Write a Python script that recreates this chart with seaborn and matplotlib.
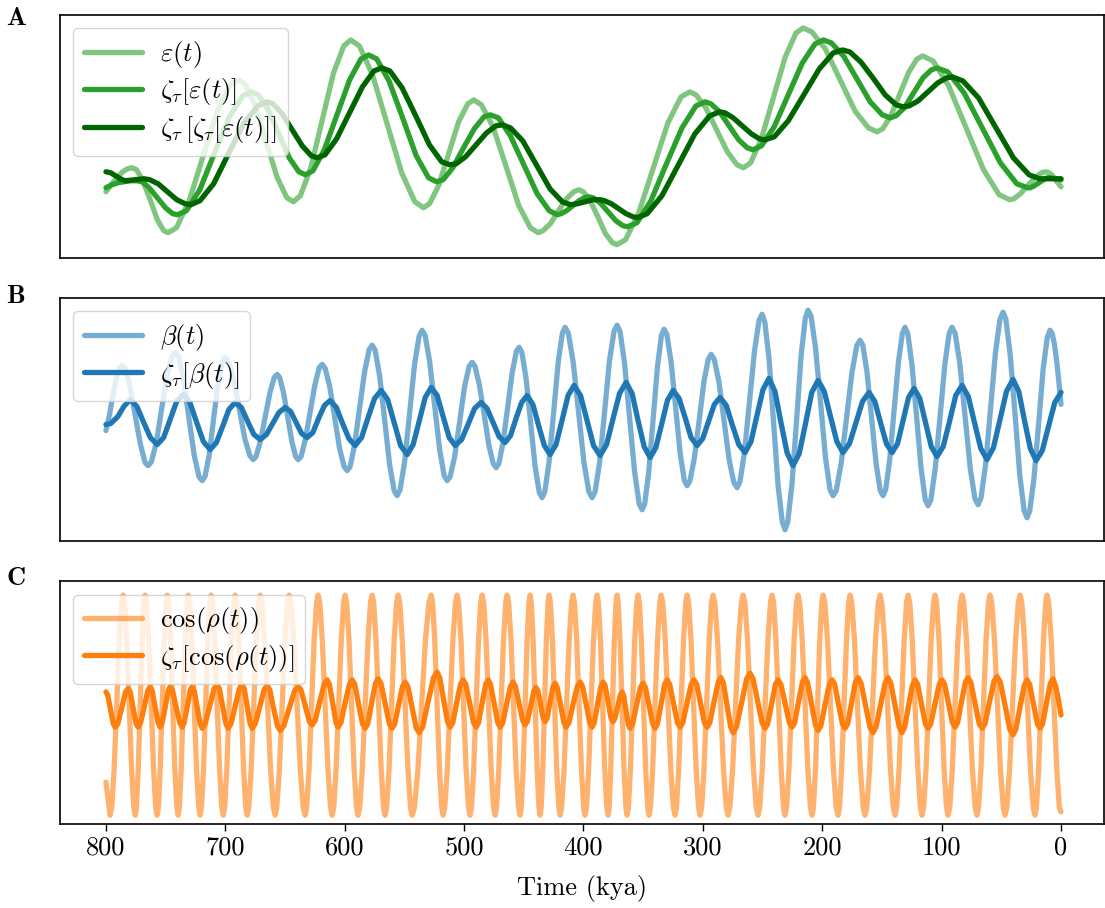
import matplotlib
matplotlib.use("Agg")
import matplotlib.pyplot as plt
import seaborn as sns

# values (arbitrary units, the chart has no y ticks)
# panel A: eccentricity and two smoothed / lagged versions of it
eps_t = [800, 795, 790, 786, 782, 778,
         774.4, 769, 763, 757, 751.6, 748,
         740.9, 730.3, 718.5, 706.7, 696.1, 689,
         683.5, 675.2, 666, 656.8, 648.5, 643,
         637.2, 628.6, 619, 609.4, 600.8, 595,
         587.7, 576.7, 564.5, 552.3, 541.3, 534,
         529, 521.4, 513, 504.6, 497, 492,
         485.5, 475.8, 465, 454.2, 444.5, 438,
         433.9, 427.8, 421, 414.2, 408.1, 404,
         400.2, 394.4, 388, 381.6, 375.8, 372,
         364.7, 353.7, 341.5, 329.3, 318.3, 311,
         305.6, 297.5, 288.5, 279.5, 271.4, 266,
         260, 251, 241, 231, 222, 216,
         208.6, 197.4, 185, 172.6, 161.4, 154,
         149.4, 142.6, 135, 127.4, 120.6, 116,
         107.2, 94.1, 79.5, 64.9, 51.8, 43,
         39.4, 34, 28, 22, 16.6, 13,
         10, 7, 4, 0]
eps_v = [0.66, 0.74, 0.81, 0.86, 0.89, 0.90,
         0.88, 0.77, 0.58, 0.38, 0.27, 0.25,
         0.30, 0.57, 1.02, 1.47, 1.73, 1.78,
         1.74, 1.53, 1.17, 0.81, 0.60, 0.56,
         0.62, 0.89, 1.37, 1.85, 2.12, 2.18,
         2.12, 1.83, 1.34, 0.85, 0.56, 0.50,
         0.54, 0.72, 1.04, 1.36, 1.54, 1.58,
         1.53, 1.31, 0.92, 0.52, 0.30, 0.25,
         0.27, 0.34, 0.47, 0.59, 0.66, 0.68,
         0.66, 0.57, 0.41, 0.24, 0.15, 0.13,
         0.18, 0.45, 0.90, 1.35, 1.61, 1.66,
         1.63, 1.50, 1.28, 1.06, 0.93, 0.90,
         0.95, 1.19, 1.60, 2.01, 2.25, 2.30,
         2.26, 2.09, 1.78, 1.47, 1.30, 1.26,
         1.29, 1.42, 1.64, 1.86, 1.99, 2.02,
         1.97, 1.72, 1.30, 0.88, 0.63, 0.58,
         0.59, 0.64, 0.72, 0.80, 0.85, 0.86,
         0.85, 0.82, 0.77, 0.71]

zeps_t = [800, 795, 790, 785, 779, 774,
          769.9, 763.8, 757, 750.2, 744.1, 740,
          732.6, 721.4, 709, 696.6, 685.4, 678,
          672.6, 664.5, 655.5, 646.5, 638.4, 633,
          626.6, 617.1, 606.5, 595.9, 586.4, 580,
          573.2, 562.9, 551.5, 540.1, 529.8, 523,
          517.6, 509.5, 500.5, 491.5, 483.4, 478,
          471.3, 461.2, 450, 438.8, 428.7, 422,
          418.9, 414.2, 409, 403.8, 399.1, 396,
          392, 386.1, 379.5, 372.9, 367, 363,
          355.2, 343.5, 330.5, 317.5, 305.8, 298,
          293.2, 286, 278, 270, 262.8, 258,
          250.9, 240.3, 228.5, 216.7, 206.1, 199,
          192.3, 182.2, 171, 159.8, 149.7, 143,
          138.3, 131.3, 123.5, 115.7, 108.7, 104,
          94.9, 81.2, 66, 50.8, 37.1, 28,
          25.7, 22.3, 18.5, 14.7, 11.3, 9,
          4.5, 0]
zeps_v = [0.70, 0.73, 0.75, 0.76, 0.77, 0.77,
          0.76, 0.70, 0.60, 0.50, 0.44, 0.43,
          0.47, 0.68, 1.05, 1.41, 1.62, 1.66,
          1.63, 1.49, 1.25, 1.00, 0.86, 0.83,
          0.87, 1.08, 1.43, 1.78, 1.99, 2.03,
          1.99, 1.77, 1.40, 1.02, 0.80, 0.76,
          0.78, 0.90, 1.10, 1.29, 1.41, 1.43,
          1.40, 1.22, 0.93, 0.64, 0.47, 0.43,
          0.44, 0.47, 0.52, 0.57, 0.60, 0.61,
          0.60, 0.55, 0.46, 0.37, 0.32, 0.31,
          0.35, 0.57, 0.94, 1.30, 1.52, 1.56,
          1.54, 1.46, 1.32, 1.18, 1.10, 1.08,
          1.12, 1.31, 1.63, 1.95, 2.14, 2.18,
          2.15, 2.02, 1.79, 1.56, 1.43, 1.40,
          1.42, 1.50, 1.65, 1.80, 1.88, 1.90,
          1.86, 1.65, 1.30, 0.95, 0.74, 0.70,
          0.70, 0.72, 0.75, 0.78, 0.80, 0.80,
          0.79, 0.78]

zzeps_t = [800, 796, 792, 788, 784, 776, 768,
           763.3, 756.3, 748.5, 740.7, 733.7, 729,
           721.3, 709.8, 697, 684.2, 672.7, 665,
           660, 652.4, 644, 635.6, 628, 623,
           616.5, 606.8, 596, 585.2, 575.5, 569,
           562.2, 551.9, 540.5, 529.1, 518.8, 512,
           506.7, 498.8, 490, 481.2, 473.3, 468,
           461.2, 450.9, 439.5, 428.1, 417.8, 411,
           405, 398.5, 392, 386,
           382.3, 376.7, 370.5, 364.3, 358.7, 355,
           346.7, 334.3, 320.5, 306.7, 294.3, 286,
           281.4, 274.6, 267, 259.4, 252.6, 248,
           240.2, 228.5, 215.5, 202.5, 190.8, 183,
           176.9, 167.7, 157.5, 147.3, 138.1, 132,
           127.1, 119.7, 111.5, 103.3, 95.9, 91,
           82.2, 69.1, 54.5, 39.9, 26.8, 18,
           9, 0]
zzeps_v = [0.86, 0.85, 0.82, 0.79, 0.77, 0.78, 0.79,
           0.78, 0.74, 0.66, 0.58, 0.54, 0.53,
           0.57, 0.74, 1.05, 1.35, 1.52, 1.56,
           1.54, 1.44, 1.28, 1.12, 1.02, 1.00,
           1.03, 1.19, 1.45, 1.71, 1.87, 1.90,
           1.87, 1.70, 1.42, 1.13, 0.96, 0.93,
           0.94, 1.01, 1.13, 1.25, 1.32, 1.33,
           1.30, 1.17, 0.93, 0.69, 0.56, 0.53,
           0.54, 0.56, 0.58, 0.58,
           0.57, 0.54, 0.49, 0.44, 0.41, 0.40,
           0.44, 0.62, 0.93, 1.24, 1.42, 1.46,
           1.45, 1.40, 1.32, 1.24, 1.19, 1.18,
           1.21, 1.37, 1.63, 1.89, 2.05, 2.08,
           2.06, 1.96, 1.80, 1.63, 1.53, 1.51,
           1.52, 1.57, 1.66, 1.75, 1.80, 1.81,
           1.77, 1.60, 1.30, 1.00, 0.83, 0.79,
           0.79, 0.79]

# panel B: obliquity and its smoothed version
beta_t = [800, 797, 794, 791, 788.5, 786.4,
          783.8, 779.9, 775.5, 771.1, 767.2, 764.6,
          761.9, 757.8, 753.3, 748.8, 744.7, 742.0,
          739.3, 735.2, 730.7, 726.2, 722.1, 719.4,
          717.1, 713.6, 709.8, 706.0, 702.5, 700.2,
          697.4, 693.1, 688.4, 683.7, 679.5, 676.7,
          674.3, 670.7, 666.6, 662.6, 659.0, 656.6,
          654.5, 651.3, 647.8, 644.3, 641.1, 639.0,
          636.6, 633.0, 628.9, 624.9, 621.3, 618.9,
          616.4, 612.6, 608.4, 604.3, 600.5, 598.0,
          595.5, 591.7, 587.5, 583.3, 579.5, 577.0,
          574.5, 570.7, 566.5, 562.4, 558.6, 556.1,
          553.6, 549.8, 545.6, 541.5, 537.7, 535.2,
          532.7, 528.9, 524.7, 520.5, 516.7, 514.2,
          511.7, 507.9, 503.7, 499.6, 495.8, 493.3,
          490.9, 487.3, 483.2, 479.2, 475.6, 473.2,
          470.9, 467.4, 463.5, 459.7, 456.2, 453.9,
          451.6, 448.1, 444.3, 440.5, 437.0, 434.7,
          432.4, 428.9, 425.0, 421.2, 417.7, 415.4,
          412.7, 408.6, 404.1, 399.6, 395.5, 392.8,
          390.3, 386.5, 382.3, 378.2, 374.4, 371.9,
          369.4, 365.6, 361.4, 357.2, 353.4, 350.9,
          348.7, 345.4, 341.7, 338.0, 334.7, 332.5,
          330.2, 326.7, 322.8, 319.0, 315.5, 313.2,
          310.8, 307.2, 303.1, 299.1, 295.5, 293.1,
          290.5, 286.6, 282.2, 277.9, 274.0, 271.4,
          268.9, 265.1, 260.9, 256.7, 252.9, 250.4,
          248.1, 244.6, 240.8, 237.0, 233.5, 231.2,
          228.9, 225.4, 221.5, 217.7, 214.2, 211.9,
          209.4, 205.6, 201.4, 197.3, 193.5, 191.0,
          188.3, 184.2, 179.6, 175.1, 171.0, 168.3,
          166.0, 162.5, 158.7, 154.9, 151.4, 149.1,
          146.9, 143.6, 139.9, 136.2, 132.9, 130.7,
          128.4, 124.9, 121.0, 117.2, 113.7, 111.4,
          109.0, 105.4, 101.3, 97.3, 93.7, 91.3,
          88.7, 84.8, 80.4, 76.0, 72.1, 69.5,
          67.0, 63.2, 59.0, 54.9, 51.1, 48.6,
          46.2, 42.6, 38.5, 34.5, 30.9, 28.5,
          26.2, 22.7, 18.8, 15.0, 11.5, 9.2,
          7.5, 5.5, 3.5, 1.7, 0]
beta_v = [-0.11, 0.05, 0.26, 0.43, 0.52, 0.54,
          0.51, 0.33, 0.04, -0.25, -0.43, -0.46,
          -0.42, -0.23, 0.11, 0.44, 0.63, 0.67,
          0.63, 0.41, 0.03, -0.35, -0.57, -0.61,
          -0.57, -0.36, 0.01, 0.37, 0.58, 0.62,
          0.58, 0.41, 0.11, -0.19, -0.36, -0.40,
          -0.37, -0.22, 0.03, 0.27, 0.42, 0.45,
          0.42, 0.27, 0.03, -0.22, -0.37, -0.40,
          -0.37, -0.20, 0.08, 0.35, 0.52, 0.55,
          0.51, 0.33, 0.02, -0.29, -0.47, -0.51,
          -0.47, -0.25, 0.12, 0.48, 0.70, 0.74,
          0.69, 0.43, -0.01, -0.45, -0.71, -0.76,
          -0.70, -0.42, 0.07, 0.55, 0.83, 0.89,
          0.84, 0.58, 0.14, -0.30, -0.56, -0.61,
          -0.57, -0.37, -0.02, 0.33, 0.53, 0.57,
          0.53, 0.35, 0.05, -0.26, -0.44, -0.48,
          -0.44, -0.23, 0.12, 0.47, 0.68, 0.72,
          0.67, 0.41, -0.03, -0.47, -0.73, -0.78,
          -0.72, -0.43, 0.07, 0.57, 0.86, 0.92,
          0.86, 0.57, 0.07, -0.43, -0.72, -0.78,
          -0.72, -0.43, 0.08, 0.59, 0.88, 0.94,
          0.88, 0.56, 0.02, -0.52, -0.84, -0.90,
          -0.84, -0.53, 0.00, 0.53, 0.84, 0.90,
          0.85, 0.58, 0.12, -0.34, -0.61, -0.66,
          -0.61, -0.39, -0.01, 0.38, 0.60, 0.65,
          0.60, 0.38, -0.02, -0.41, -0.63, -0.68,
          -0.62, -0.32, 0.19, 0.69, 0.99, 1.05,
          0.97, 0.61, -0.03, -0.66, -1.02, -1.10,
          -1.02, -0.65, -0.01, 0.64, 1.01, 1.09,
          1.03, 0.71, 0.17, -0.38, -0.70, -0.76,
          -0.71, -0.44, 0.02, 0.47, 0.74, 0.79,
          0.74, 0.47, 0.02, -0.44, -0.71, -0.76,
          -0.70, -0.41, 0.08, 0.57, 0.86, 0.92,
          0.86, 0.55, 0.03, -0.49, -0.80, -0.86,
          -0.80, -0.49, 0.03, 0.55, 0.86, 0.92,
          0.86, 0.56, 0.04, -0.49, -0.79, -0.85,
          -0.78, -0.45, 0.11, 0.67, 1.00, 1.07,
          1.00, 0.65, 0.05, -0.56, -0.91, -0.98,
          -0.91, -0.59, -0.05, 0.50, 0.82, 0.89,
          0.86, 0.75, 0.57, 0.36, 0.15]

zbeta_t = [800, 796, 790, 785, 779.7,
           774.1, 768.4, 762.8, 757.1, 751.7, 746.2, 740.8, 735.3,
           729.7, 724.0, 718.4, 712.7, 707.5, 702.3, 697.0, 691.8,
           686.6, 681.3, 676.1, 670.8, 665.6, 660.4, 655.1, 649.9,
           645.3, 640.7, 636.1, 631.5, 626.7, 621.9, 617.0, 612.2,
           607.0, 601.8, 596.5, 591.3, 585.9, 580.4, 575.0, 569.5,
           564.1, 558.6, 553.2, 547.7, 542.7, 537.7, 532.6, 527.6,
           522.6, 517.6, 512.5, 507.5, 502.1, 496.7, 491.2, 485.8,
           480.8, 475.8, 470.7, 465.7, 461.1, 456.5, 451.8, 447.2,
           442.4, 437.6, 432.8, 428.0, 423.0, 418.0, 412.9, 407.9,
           402.5, 397.0, 391.6, 386.1, 380.7, 375.2, 369.8, 364.3,
           359.3, 354.3, 349.2, 344.2, 339.4, 334.6, 329.7, 324.9,
           319.9, 314.9, 309.9, 304.9, 300.1, 295.3, 290.4, 285.6,
           280.4, 275.2, 269.9, 264.7, 259.7, 254.7, 249.6, 244.6,
           239.6, 234.6, 229.5, 224.5, 219.3, 214.0, 208.8, 203.5,
           198.3, 193.1, 187.8, 182.6, 177.2, 171.7, 166.3, 160.8,
           156.0, 151.2, 146.3, 141.5, 136.9, 132.3, 127.7, 123.1,
           118.3, 113.5, 108.7, 103.9, 98.7, 93.4, 88.2, 82.9,
           77.7, 72.5, 67.2, 62.0, 56.6, 51.1, 45.7, 40.2,
           35.4, 30.6, 25.7, 20.9, 15.7, 10.5, 5.2, 0]
zbeta_v = [-0.05, -0.04, 0.03, 0.13, 0.20,
           0.13, -0.03, -0.18, -0.25, -0.18, 0.00, 0.18, 0.25,
           0.17, -0.03, -0.22, -0.30, -0.23, -0.07, 0.10, 0.17,
           0.12, -0.02, -0.15, -0.20, -0.15, -0.04, 0.07, 0.12,
           0.08, -0.03, -0.14, -0.18, -0.13, 0.01, 0.14, 0.19,
           0.12, -0.04, -0.19, -0.26, -0.18, 0.02, 0.21, 0.29,
           0.20, -0.03, -0.26, -0.35, -0.25, -0.02, 0.22, 0.32,
           0.24, 0.03, -0.18, -0.26, -0.20, -0.05, 0.11, 0.17,
           0.11, -0.03, -0.17, -0.23, -0.16, 0.01, 0.17, 0.24,
           0.15, -0.06, -0.26, -0.35, -0.25, -0.01, 0.24, 0.34,
           0.24, -0.01, -0.26, -0.36, -0.25, 0.01, 0.26, 0.37,
           0.26, -0.01, -0.27, -0.38, -0.28, -0.05, 0.19, 0.29,
           0.21, 0.02, -0.18, -0.26, -0.19, -0.02, 0.15, 0.22,
           0.14, -0.06, -0.25, -0.33, -0.22, 0.04, 0.30, 0.41,
           0.28, -0.03, -0.33, -0.46, -0.34, -0.04, 0.27, 0.39,
           0.28, 0.03, -0.22, -0.33, -0.24, -0.03, 0.18, 0.27,
           0.18, -0.03, -0.24, -0.33, -0.24, -0.01, 0.22, 0.31,
           0.21, -0.03, -0.27, -0.37, -0.27, -0.02, 0.24, 0.34,
           0.23, -0.03, -0.29, -0.40, -0.28, 0.00, 0.28, 0.40,
           0.28, -0.01, -0.29, -0.41, -0.31, -0.07, 0.17, 0.27]

# panel C: cosine of the precession angle and its smoothed version
rho_t = [800, 796.5,
         795.2, 793.2, 791.0, 788.9, 786.9, 785.6, 784.4, 782.6, 780.5, 778.5, 776.7, 775.5,
         774.5, 773.0, 771.3, 769.7, 768.2, 767.2, 766.0, 764.2, 762.1, 760.1, 758.3, 757.1,
         756.1, 754.6, 752.9, 751.2, 749.7, 748.7, 747.6, 745.9, 744.1, 742.3, 740.6, 739.5,
         738.5, 737.0, 735.3, 733.6, 732.1, 731.1, 729.9, 728.1, 726.1, 724.1, 722.3, 721.1,
         720.0, 718.3, 716.5, 714.7, 713.0, 711.9, 710.7, 708.9, 706.9, 704.8, 703.0, 701.8,
         700.6, 698.8, 696.8, 694.8, 693.0, 691.8, 690.6, 688.8, 686.7, 684.7, 682.9, 681.7,
         680.4, 678.4, 676.2, 674.1, 672.1, 670.8, 669.3, 667.1, 664.6, 662.1, 659.8, 658.3,
         656.9, 654.8, 652.4, 650.1, 648.0, 646.6, 645.0, 642.6, 639.9, 637.2, 634.8, 633.2,
         631.9, 629.9, 627.8, 625.6, 623.6, 622.3, 620.9, 618.8, 616.4, 614.0, 611.9, 610.5,
         609.2, 607.3, 605.1, 602.9, 601.0, 599.7, 598.4, 596.4, 594.3, 592.1, 590.1, 588.8,
         587.4, 585.3, 582.9, 580.5, 578.4, 577.0, 575.7, 573.8, 571.6, 569.4, 567.5, 566.2,
         564.9, 562.9, 560.8, 558.6, 556.6, 555.3, 553.9, 551.8, 549.4, 547.0, 544.9, 543.5,
         541.6, 538.7, 535.6, 532.4, 529.5, 527.6, 526.4, 524.6, 522.6, 520.6, 518.8, 517.6,
         516.2, 514.1, 511.8, 509.4, 507.3, 505.9, 504.6, 502.6, 500.5, 498.3, 496.3, 495.0,
         493.8, 492.0, 490.0, 487.9, 486.1, 484.9, 483.6, 481.6, 479.5, 477.3, 475.3, 474.0,
         472.8, 471.0, 469.0, 467.0, 465.2, 464.0, 462.7, 460.7, 458.6, 456.4, 454.4, 453.1,
         452.1, 450.6, 448.9, 447.2, 445.7, 444.7, 443.7, 442.2, 440.5, 438.8, 437.3, 436.3,
         435.4, 434.1, 432.6, 431.1, 429.7, 428.8, 427.7, 426.0, 424.2, 422.4, 420.7, 419.6,
         418.3, 416.3, 414.2, 412.0, 410.0, 408.7, 407.5, 405.7, 403.7, 401.7, 399.9, 398.7,
         397.5, 395.7, 393.7, 391.6, 389.8, 388.6, 387.5, 385.8, 384.0, 382.2, 380.5, 379.4,
         378.5, 377.2, 375.7, 374.2, 372.8, 371.9, 370.9, 369.4, 367.7, 366.0, 364.5, 363.5,
         362.4, 360.7, 358.9, 357.1, 355.4, 354.3, 353.2, 351.5, 349.7, 347.9, 346.2, 345.1,
         343.9, 342.1, 340.1, 338.0, 336.2, 335.0, 333.6, 331.5, 329.2, 326.8, 324.7, 323.3,
         322.1, 320.3, 318.3, 316.2, 314.4, 313.2, 311.9, 309.9, 307.8, 305.6, 303.6, 302.3,
         301.0, 299.1, 296.9, 294.7, 292.8, 291.5, 290.0, 287.7, 285.2, 282.7, 280.4, 278.9,
         277.4, 275.1, 272.6, 270.1, 267.8, 266.3, 264.8, 262.6, 260.1, 257.6, 255.3, 253.8,
         252.4, 250.3, 247.9, 245.5, 243.4, 242.0, 240.7, 238.8, 236.6, 234.4, 232.5, 231.2,
         229.9, 227.9, 225.8, 223.6, 221.6, 220.3, 218.9, 216.8, 214.4, 212.0, 209.9, 208.5,
         207.4, 205.7, 203.9, 202.1, 200.4, 199.3, 197.8, 195.6, 193.1, 190.6, 188.3, 186.8,
         185.6, 183.8, 181.8, 179.7, 177.9, 176.7, 175.2, 173.0, 170.5, 168.0, 165.7, 164.2,
         162.7, 160.4, 157.9, 155.4, 153.1, 151.6, 150.1, 147.8, 145.3, 142.8, 140.5, 139.0,
         137.7, 135.7, 133.6, 131.4, 129.4, 128.1, 126.7, 124.6, 122.3, 119.9, 117.8, 116.4,
         115.1, 113.1, 111.0, 108.8, 106.8, 105.5, 104.2, 102.2, 100.1, 97.9, 95.9, 94.6,
         93.2, 91.1, 88.8, 86.4, 84.3, 82.9, 81.4, 79.2, 76.7, 74.2, 71.9, 70.4,
         69.1, 67.1, 65.0, 62.8, 60.8, 59.5, 58.0, 55.7, 53.2, 50.7, 48.4, 46.9,
         45.4, 43.1, 40.6, 38.1, 35.8, 34.3, 32.8, 30.6, 28.1, 25.6, 23.3, 21.8,
         20.6, 18.8, 16.8, 14.7, 12.9, 11.7, 10.3, 8.2, 5.9, 3.5, 1.4, 0]
# one line per precession cycle (trough -> peak -> trough), 37 lines
rho_v = [-0.70, -1.0,
         # cycles 1-10
         -0.93, -0.59, 0.0, 0.59, 0.93, 1.0, 0.93, 0.59, 0.0, -0.59, -0.93, -1.0,
         -0.93, -0.59, 0.0, 0.59, 0.93, 1.0, 0.93, 0.59, 0.0, -0.59, -0.93, -1.0,
         -0.93, -0.59, 0.0, 0.59, 0.93, 1.0, 0.93, 0.59, 0.0, -0.59, -0.93, -1.0,
         -0.93, -0.59, 0.0, 0.59, 0.93, 1.0, 0.93, 0.59, 0.0, -0.59, -0.93, -1.0,
         -0.93, -0.59, 0.0, 0.59, 0.93, 1.0, 0.93, 0.59, 0.0, -0.59, -0.93, -1.0,
         -0.93, -0.59, 0.0, 0.59, 0.93, 1.0, 0.93, 0.59, 0.0, -0.59, -0.93, -1.0,
         -0.93, -0.59, 0.0, 0.59, 0.93, 1.0, 0.93, 0.59, 0.0, -0.59, -0.93, -1.0,
         -0.93, -0.59, 0.0, 0.59, 0.93, 1.0, 0.93, 0.59, 0.0, -0.59, -0.93, -1.0,
         -0.93, -0.59, 0.0, 0.59, 0.93, 1.0, 0.93, 0.59, 0.0, -0.59, -0.93, -1.0,
         -0.93, -0.59, 0.0, 0.59, 0.93, 1.0, 0.93, 0.59, 0.0, -0.59, -0.93, -1.0,
         # cycles 11-20
         -0.93, -0.59, 0.0, 0.59, 0.93, 1.0, 0.93, 0.59, 0.0, -0.59, -0.93, -1.0,
         -0.93, -0.59, 0.0, 0.59, 0.93, 1.0, 0.93, 0.59, 0.0, -0.59, -0.93, -1.0,
         -0.93, -0.59, 0.0, 0.59, 0.93, 1.0, 0.93, 0.59, 0.0, -0.59, -0.93, -1.0,
         -0.93, -0.59, 0.0, 0.59, 0.93, 1.0, 0.93, 0.59, 0.0, -0.59, -0.93, -1.0,
         -0.93, -0.59, 0.0, 0.59, 0.93, 1.0, 0.93, 0.59, 0.0, -0.59, -0.93, -1.0,
         -0.93, -0.59, 0.0, 0.59, 0.93, 1.0, 0.93, 0.59, 0.0, -0.59, -0.93, -1.0,
         -0.93, -0.59, 0.0, 0.59, 0.93, 1.0, 0.93, 0.59, 0.0, -0.59, -0.93, -1.0,
         -0.93, -0.59, 0.0, 0.59, 0.93, 1.0, 0.93, 0.59, 0.0, -0.59, -0.93, -1.0,
         -0.93, -0.59, 0.0, 0.59, 0.93, 1.0, 0.93, 0.59, 0.0, -0.59, -0.93, -1.0,
         -0.93, -0.59, 0.0, 0.59, 0.93, 1.0, 0.93, 0.59, 0.0, -0.59, -0.93, -1.0,
         # cycles 21-30
         -0.93, -0.59, 0.0, 0.59, 0.93, 1.0, 0.93, 0.59, 0.0, -0.59, -0.93, -1.0,
         -0.93, -0.59, 0.0, 0.59, 0.93, 1.0, 0.93, 0.59, 0.0, -0.59, -0.93, -1.0,
         -0.93, -0.59, 0.0, 0.59, 0.93, 1.0, 0.93, 0.59, 0.0, -0.59, -0.93, -1.0,
         -0.93, -0.59, 0.0, 0.59, 0.93, 1.0, 0.93, 0.59, 0.0, -0.59, -0.93, -1.0,
         -0.93, -0.59, 0.0, 0.59, 0.93, 1.0, 0.93, 0.59, 0.0, -0.59, -0.93, -1.0,
         -0.93, -0.59, 0.0, 0.59, 0.93, 1.0, 0.93, 0.59, 0.0, -0.59, -0.93, -1.0,
         -0.93, -0.59, 0.0, 0.59, 0.93, 1.0, 0.93, 0.59, 0.0, -0.59, -0.93, -1.0,
         -0.93, -0.59, 0.0, 0.59, 0.93, 1.0, 0.93, 0.59, 0.0, -0.59, -0.93, -1.0,
         -0.93, -0.59, 0.0, 0.59, 0.93, 1.0, 0.93, 0.59, 0.0, -0.59, -0.93, -1.0,
         -0.93, -0.59, 0.0, 0.59, 0.93, 1.0, 0.93, 0.59, 0.0, -0.59, -0.93, -1.0,
         # cycles 31-37
         -0.93, -0.59, 0.0, 0.59, 0.93, 1.0, 0.93, 0.59, 0.0, -0.59, -0.93, -1.0,
         -0.93, -0.59, 0.0, 0.59, 0.93, 1.0, 0.93, 0.59, 0.0, -0.59, -0.93, -1.0,
         -0.93, -0.59, 0.0, 0.59, 0.93, 1.0, 0.93, 0.59, 0.0, -0.59, -0.93, -1.0,
         -0.93, -0.59, 0.0, 0.59, 0.93, 1.0, 0.93, 0.59, 0.0, -0.59, -0.93, -1.0,
         -0.93, -0.59, 0.0, 0.59, 0.93, 1.0, 0.93, 0.59, 0.0, -0.59, -0.93, -1.0,
         -0.93, -0.59, 0.0, 0.59, 0.93, 1.0, 0.93, 0.59, 0.0, -0.59, -0.93, -1.0,
         -0.93, -0.59, 0.0, 0.59, 0.93, 1.0, 0.93, 0.59, 0.0, -0.59, -0.93, -0.97]

zrho_t = [800, 798.5, 796.2, 793.8, 792.3,
          790.1, 786.9, 783.6, 781.4, 779.7, 777.2, 774.7, 773.0,
          771.0, 768.0, 765.0, 763.0, 761.3, 758.8, 756.3, 754.6,
          752.9, 750.4, 747.9, 746.2, 744.2, 741.2, 738.2, 736.2,
          734.5, 732.0, 729.5, 727.8, 726.1, 723.6, 721.1, 719.4,
          716.9, 713.2, 709.4, 706.9, 705.0, 702.3, 699.5, 697.6,
          695.3, 691.8, 688.2, 685.9, 684.2, 681.7, 679.2, 677.5,
          675.0, 671.3, 667.5, 665.0, 662.8, 659.6, 656.3, 654.1,
          651.1, 646.6, 642.0, 639.0, 636.7, 633.2, 629.6, 627.3,
          624.8, 621.0, 617.2, 614.7, 612.9, 610.1, 607.3, 605.5,
          603.2, 599.7, 596.1, 593.8, 591.6, 588.4, 585.1, 582.9,
          580.7, 577.5, 574.2, 572.0, 569.7, 566.2, 562.6, 560.3,
          558.1, 554.9, 551.6, 549.4, 547.1, 543.6, 540.0, 537.7,
          534.7, 530.2, 525.6, 522.6, 520.4, 517.2, 513.9, 511.7,
          509.5, 506.3, 503.0, 500.8, 498.6, 495.4, 492.1, 489.9,
          487.9, 484.9, 481.9, 479.9, 477.9, 474.9, 471.8, 469.8,
          467.6, 464.4, 461.2, 459.0, 457.0, 454.0, 450.9, 448.9,
          447.1, 444.3, 441.5, 439.7, 438.2, 436.0, 433.7, 432.2,
          430.5, 428.0, 425.5, 423.8, 422.0, 419.2, 416.4, 414.6,
          412.2, 408.7, 405.2, 402.8, 400.8, 397.8, 394.8, 392.8,
          391.0, 388.2, 385.4, 383.6, 381.9, 379.4, 376.9, 375.2,
          373.7, 371.5, 369.2, 367.7, 366.4, 364.4, 362.3, 361.0,
          358.8, 355.6, 352.3, 350.1, 348.1, 345.1, 342.0, 340.0,
          338.0, 335.0, 332.0, 330.0, 327.8, 324.6, 321.3, 319.1,
          316.8, 313.3, 309.7, 307.4, 305.2, 302.0, 298.7, 296.5,
          294.2, 290.7, 287.1, 284.8, 282.8, 279.8, 276.7, 274.7,
          271.9, 267.6, 263.3, 260.5, 258.0, 254.2, 250.4, 247.9,
          245.7, 242.5, 239.2, 237.0, 234.7, 231.2, 227.6, 225.3,
          223.1, 219.9, 216.6, 214.4, 212.2, 209.0, 205.7, 203.5,
          201.2, 197.7, 194.1, 191.8, 189.6, 186.4, 183.1, 180.9,
          178.7, 175.5, 172.2, 170.0, 167.5, 163.8, 160.0, 157.5,
          155.0, 151.2, 147.4, 144.9, 142.6, 139.1, 135.5, 133.2,
          131.0, 127.8, 124.5, 122.3, 120.1, 116.9, 113.6, 111.4,
          109.1, 105.6, 102.0, 99.7, 97.5, 94.3, 91.0, 88.8,
          86.6, 83.4, 80.1, 77.9, 75.6, 72.1, 68.5, 66.2,
          63.7, 59.9, 56.1, 53.6, 50.9, 46.9, 42.9, 40.2,
          37.9, 34.4, 30.8, 28.5, 26.3, 23.1, 19.8, 17.6,
          15.4, 12.2, 8.9, 6.7, 4.5, 2.2, 0]
zrho_v = [0.12, 0.09, -0.04, -0.17, -0.20,
          -0.17, -0.03, 0.12, 0.15, 0.12, -0.03, -0.17, -0.20,
          -0.16, -0.02, 0.13, 0.17, 0.13, -0.02, -0.16, -0.20,
          -0.16, -0.02, 0.13, 0.17, 0.13, -0.02, -0.16, -0.20,
          -0.16, -0.02, 0.13, 0.17, 0.13, -0.02, -0.17, -0.21,
          -0.17, -0.01, 0.15, 0.19, 0.15, -0.01, -0.17, -0.21,
          -0.17, -0.01, 0.15, 0.19, 0.15, -0.01, -0.17, -0.21,
          -0.17, -0.02, 0.14, 0.18, 0.14, -0.03, -0.19, -0.23,
          -0.19, -0.03, 0.13, 0.17, 0.14, 0.00, -0.15, -0.18,
          -0.14, 0.03, 0.19, 0.23, 0.19, 0.02, -0.16, -0.20,
          -0.16, 0.02, 0.19, 0.23, 0.19, 0.01, -0.17, -0.21,
          -0.17, 0.02, 0.20, 0.24, 0.20, 0.02, -0.17, -0.21,
          -0.17, 0.00, 0.17, 0.21, 0.17, -0.02, -0.21, -0.25,
          -0.20, 0.03, 0.25, 0.30, 0.25, 0.05, -0.15, -0.20,
          -0.16, 0.02, 0.19, 0.23, 0.19, 0.02, -0.16, -0.20,
          -0.16, 0.02, 0.19, 0.23, 0.19, 0.02, -0.16, -0.20,
          -0.16, 0.01, 0.17, 0.21, 0.17, 0.02, -0.14, -0.18,
          -0.15, -0.01, 0.13, 0.16, 0.13, 0.01, -0.12, -0.15,
          -0.12, 0.03, 0.17, 0.20, 0.16, 0.00, -0.16, -0.20,
          -0.16, 0.01, 0.17, 0.21, 0.17, 0.01, -0.16, -0.20,
          -0.16, 0.01, 0.17, 0.21, 0.18, 0.03, -0.12, -0.15,
          -0.12, -0.02, 0.09, 0.12, 0.09, -0.05, -0.18, -0.21,
          -0.17, 0.00, 0.16, 0.20, 0.16, 0.00, -0.17, -0.21,
          -0.17, 0.01, 0.19, 0.23, 0.19, 0.02, -0.16, -0.20,
          -0.16, 0.02, 0.19, 0.23, 0.19, 0.02, -0.16, -0.20,
          -0.16, 0.03, 0.21, 0.25, 0.20, 0.00, -0.20, -0.25,
          -0.20, 0.02, 0.24, 0.29, 0.24, 0.04, -0.16, -0.21,
          -0.17, 0.01, 0.19, 0.23, 0.19, 0.02, -0.16, -0.20,
          -0.16, 0.03, 0.21, 0.25, 0.20, 0.01, -0.18, -0.23,
          -0.19, 0.00, 0.19, 0.23, 0.19, 0.01, -0.17, -0.21,
          -0.17, 0.02, 0.21, 0.25, 0.20, 0.00, -0.20, -0.25,
          -0.20, 0.00, 0.20, 0.25, 0.20, 0.00, -0.20, -0.25,
          -0.20, -0.01, 0.18, 0.23, 0.19, 0.01, -0.17, -0.21,
          -0.17, 0.01, 0.19, 0.23, 0.19, 0.02, -0.16, -0.20,
          -0.16, 0.03, 0.21, 0.25, 0.21, 0.02, -0.17, -0.21,
          -0.17, 0.03, 0.22, 0.26, 0.21, 0.00, -0.22, -0.27,
          -0.22, -0.02, 0.18, 0.23, 0.19, 0.01, -0.17, -0.21,
          -0.17, 0.02, 0.20, 0.24, 0.17, 0.05, -0.09]

time_ticks = [800, 700, 600, 500, 400, 300, 200, 100, 0]

sns.set_theme(style="ticks", rc={
    "axes.edgecolor": "black", "axes.linewidth": 1.2,
    "text.color": "black", "axes.labelcolor": "black",
    "xtick.color": "black", "xtick.major.size": 5, "xtick.major.width": 1.0,
})
# seaborn resets the font family, so the LaTeX-like fonts go in afterwards
plt.rcParams["font.family"] = ["cmr10", "DejaVu Serif"]
plt.rcParams["mathtext.fontset"] = "cm"
plt.rcParams["axes.formatter.use_mathtext"] = True
plt.rcParams["axes.unicode_minus"] = False

fs = 19
lw = 3.8
fig, axes = plt.subplots(3, 1, figsize=(11.05, 9.08), dpi=100, sharex=True)
fig.subplots_adjust(left=60 / 1105, right=1104 / 1105, top=1 - 15 / 908,
                    bottom=1 - 824 / 908, hspace=0.167)
ax_a, ax_b, ax_c = axes

sns.lineplot(x=eps_t, y=eps_v, ax=ax_a, color="#2ca02c", alpha=0.6, lw=lw,
             estimator=None, label=r"$\varepsilon(t)$")
sns.lineplot(x=zeps_t, y=zeps_v, ax=ax_a, color="#2ca02c", lw=lw,
             estimator=None, label=r"$\zeta_\tau[\varepsilon(t)]$")
sns.lineplot(x=zzeps_t, y=zzeps_v, ax=ax_a, color="#006400", lw=lw,
             estimator=None,
             label=r"$\zeta_\tau\,\left[\zeta_\tau[\varepsilon(t)]\right]$")

sns.lineplot(x=beta_t, y=beta_v, ax=ax_b, color="#1f77b4", alpha=0.6, lw=lw,
             estimator=None, label=r"$\beta(t)$")
sns.lineplot(x=zbeta_t, y=zbeta_v, ax=ax_b, color="#1f77b4", lw=lw,
             estimator=None, label=r"$\zeta_\tau[\beta(t)]$")

sns.lineplot(x=rho_t, y=rho_v, ax=ax_c, color="#ff7f0e", alpha=0.6, lw=lw,
             estimator=None, label=r"$\cos(\rho(t))$")
sns.lineplot(x=zrho_t, y=zrho_v, ax=ax_c, color="#ff7f0e", lw=lw,
             estimator=None, label=r"$\zeta_\tau[\cos(\rho(t))]$")

ax_a.set_ylim(0, 2.43)
ax_b.set_ylim(-1.21, 1.21)
ax_c.set_ylim(-1.08, 1.125)

for ax in axes:
    ax.set_xlim(838.5, -36)
    ax.set_yticks([])
    ax.set_ylabel("")
    ax.legend(loc="upper left", fontsize=fs, frameon=True, framealpha=0.8,
              edgecolor="0.8", fancybox=True, handlelength=2.2,
              handletextpad=0.7, labelspacing=0.25)
    ax.tick_params(left=False, labelleft=False)

ax_a.tick_params(bottom=False, labelbottom=False)
ax_b.tick_params(bottom=False, labelbottom=False)
ax_c.set_xticks(time_ticks)
ax_c.set_xticklabels([str(t) for t in time_ticks])
ax_c.tick_params(axis="x", labelsize=fs)
ax_c.set_xlabel("Time (kya)", fontsize=fs, labelpad=11)

for lab, ypix in zip("ABC", [18, 296, 578]):
    fig.text(16 / 1105, 1 - ypix / 908, r"$\mathbf{%s}$" % lab, fontsize=fs,
             ha="center", va="center")

fig.savefig("out.png", dpi=100)
